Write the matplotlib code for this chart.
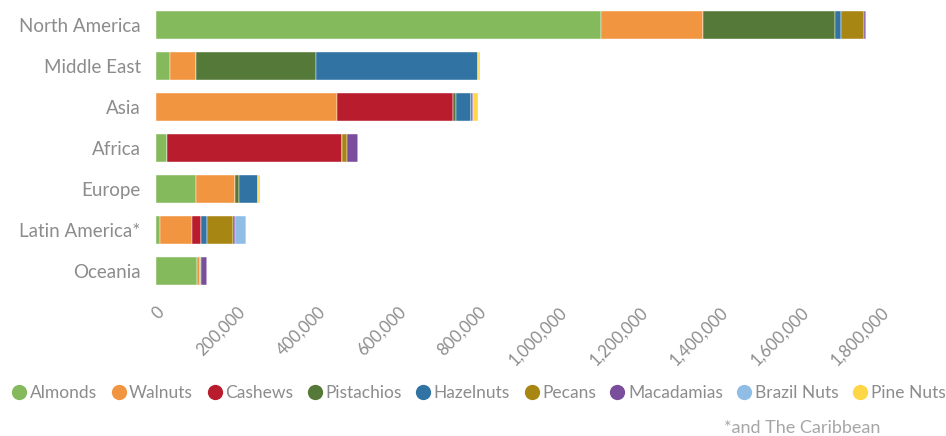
import matplotlib.pyplot as plt
from matplotlib.lines import Line2D
from matplotlib.ticker import FuncFormatter
import numpy as np

plt.rcParams['font.family'] = ['Lato', 'DejaVu Sans']

regions = ['North America', 'Middle East', 'Asia', 'Africa', 'Europe',
           'Latin America*', 'Oceania']
nuts = ['Almonds', 'Walnuts', 'Cashews', 'Pistachios', 'Hazelnuts',
        'Pecans', 'Macadamias', 'Brazil Nuts', 'Pine Nuts']
colors = ['#84BA5B', '#F29540', '#B81C2D', '#557938', '#3174A4',
          '#A88613', '#7A4E9C', '#8FBDE6', '#FED646']

# values per nut, in region order
almonds     = [1105000, 34000, 0, 27000, 100000, 11000, 103000]
walnuts     = [253000, 66000, 450000, 0, 96000, 78000, 5000]
cashews     = [0, 0, 288000, 435000, 0, 23000, 0]
pistachios  = [328000, 296000, 8000, 0, 11000, 0, 3000]
hazelnuts   = [14000, 404000, 35000, 0, 46000, 15000, 0]
pecans      = [58000, 0, 0, 12000, 0, 65000, 0]
macadamias  = [4000, 0, 7000, 27000, 0, 4000, 16000]
brazil_nuts = [0, 0, 0, 0, 0, 27000, 0]
pine_nuts   = [0, 4000, 12000, 0, 4000, 0, 0]

series = [almonds, walnuts, cashews, pistachios, hazelnuts,
          pecans, macadamias, brazil_nuts, pine_nuts]

fig = plt.figure(figsize=(9.46, 4.36), dpi=100)
ax = fig.add_axes([156/946, 1 - 291.5/436, 725/946, 287/436])

y = np.arange(len(regions))
left = np.zeros(len(regions))
for vals, c, name in zip(series, colors, nuts):
    v = np.array(vals, dtype=float)
    ax.barh(y, v, left=left, height=0.68, color=c, edgecolor='white',
            linewidth=0.3, label=name)
    left += v

ax.set_ylim(len(regions) - 0.5, -0.5)
ax.set_xlim(0, 1800000)
ax.set_yticks(y)
ax.set_yticklabels(regions, fontsize=13.5, color='#8C8C8C')
ax.set_xticks(np.arange(0, 1800001, 200000))
ax.xaxis.set_major_formatter(FuncFormatter(lambda v, p: f'{int(v):,}'))
for lab in ax.get_xticklabels():
    lab.set_rotation(45)
    lab.set_ha('right')
    lab.set_rotation_mode('anchor')
    lab.set_fontsize(12)
    lab.set_color('#8C8C8C')
ax.tick_params(axis='y', length=0, pad=11)
ax.tick_params(axis='x', length=0, pad=9)
for s in ax.spines.values():
    s.set_visible(False)

handles = [Line2D([], [], marker='o', ls='', markersize=11, color=c,
                  markeredgewidth=0) for c in colors]
leg = fig.legend(handles, nuts, loc='center', ncol=9,
                 bbox_to_anchor=(478/946, 1 - 393/436), frameon=False,
                 handletextpad=0.1, columnspacing=0.75, handlelength=1.0,
                 fontsize=12.5, borderpad=0, borderaxespad=0)
for t in leg.get_texts():
    t.set_color('#8C8C8C')

fig.text(880/946, 1 - 428/436, '*and The Caribbean', ha='right', va='center',
         fontsize=13, color='#A6A6A6')

fig.savefig('out.png', dpi=100)
